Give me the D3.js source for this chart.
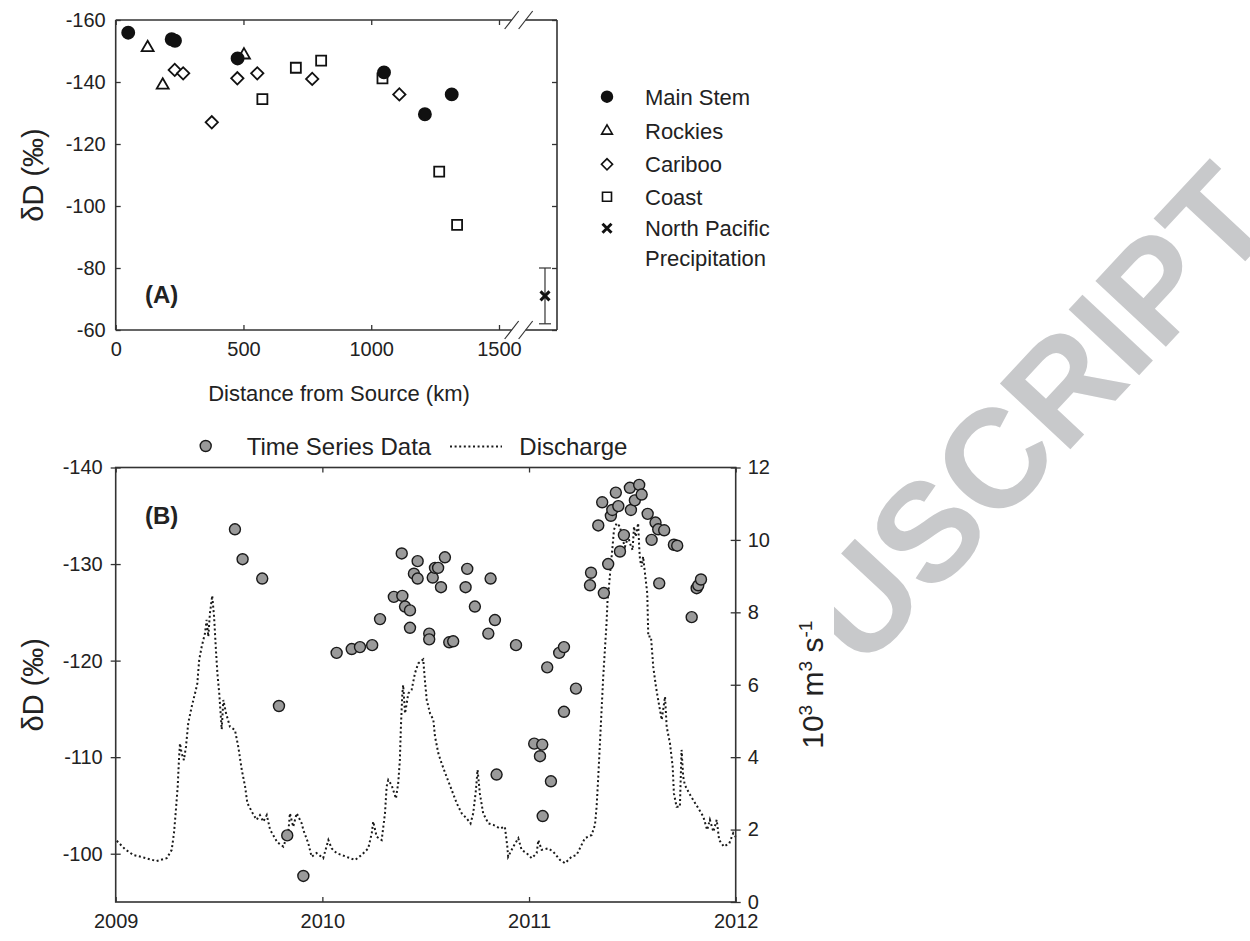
<!DOCTYPE html>
<html>
<head>
<meta charset="utf-8">
<script src="https://cdn.jsdelivr.net/npm/d3@7"></script>
<style>
  body { margin: 0; background: #fff; }
  text { font-family: "Liberation Sans", Arial, sans-serif; fill: #222; }
</style>
</head>
<body>
<svg id="chart" width="1250" height="941"></svg>
<script>
// ---- panel A: dD vs distance from source ----
const mainStemKm = [49, 219, 232, 477, 1050, 1210, 1315];
const mainStemDD = [-155.9, -153.8, -153.3, -147.6, -143.1, -129.6, -136.0];
const rockiesKm = [125, 184, 502];
const rockiesDD = [-151.1, -139.0, -148.7];
const caribooKm = [231, 264, 376, 476, 554, 769, 1110];
const caribooDD = [-143.9, -142.8, -127.0, -141.2, -142.8, -141.0, -136.0];
const coastKm = [574, 705, 804, 1044, 1266, 1336];
const coastDD = [-134.5, -144.6, -146.9, -141.2, -111.1, -93.9];
const pacificKm = [1680];
const pacificDD = [-71];
const pacificLow = [-80];
const pacificHigh = [-62];
const legendA = ['Main Stem', 'Rockies', 'Cariboo', 'Coast', 'North Pacific'];
const ticksAx = [0, 500, 1000, 1500];
const ticksAy = [-160, -140, -120, -100, -80, -60];

// ---- panel B: time series (decimal years) ----
const seriesT = [2009.577, 2009.614, 2009.709, 2009.790, 2009.830, 2009.908,
  2010.069, 2010.142, 2010.182, 2010.241, 2010.279, 2010.346, 2010.384, 2010.387,
  2010.400, 2010.424, 2010.424, 2010.443, 2010.461, 2010.461, 2010.517, 2010.517,
  2010.534, 2010.545, 2010.560, 2010.574, 2010.593, 2010.614, 2010.633, 2010.693,
  2010.701, 2010.738, 2010.803, 2010.814, 2010.835, 2010.843, 2010.937,
  2011.025, 2011.053, 2011.064, 2011.066, 2011.088, 2011.106, 2011.146, 2011.169,
  2011.169, 2011.227, 2011.295, 2011.300, 2011.335, 2011.354, 2011.362, 2011.383,
  2011.396, 2011.403, 2011.420, 2011.432, 2011.440, 2011.459, 2011.488, 2011.493,
  2011.512, 2011.533, 2011.545, 2011.574, 2011.593, 2011.612, 2011.625, 2011.630,
  2011.654, 2011.701, 2011.717, 2011.787, 2011.811, 2011.819, 2011.832];
const seriesDD = [-133.6, -130.5, -128.5, -115.3, -101.9, -97.7,
  -120.8, -121.2, -121.4, -121.6, -124.3, -126.6, -131.1, -126.7,
  -125.6, -125.2, -123.4, -129.0, -130.3, -128.5, -122.8, -122.2,
  -128.6, -129.6, -129.6, -127.6, -130.7, -121.9, -122.0, -127.6,
  -129.5, -125.6, -122.8, -128.5, -124.2, -108.2, -121.6,
  -111.4, -110.1, -111.3, -103.9, -119.3, -107.5, -120.8, -121.4,
  -114.7, -117.1, -127.8, -129.1, -134.0, -136.4, -127.0, -130.0,
  -135.0, -135.6, -137.4, -136.0, -131.3, -133.0, -137.9, -135.6,
  -136.6, -138.2, -137.2, -135.2, -132.5, -134.3, -133.6, -128.0,
  -133.5, -132.0, -131.9, -124.5, -127.5, -127.8, -128.4];

// discharge, 10^3 m3/s
const dischargeT = [2009.005, 2009.045, 2009.085, 2009.134, 2009.198, 2009.247, 2009.271,
  2009.282, 2009.290, 2009.300, 2009.306, 2009.311, 2009.319, 2009.330, 2009.340, 2009.351,
  2009.368, 2009.388, 2009.395, 2009.404, 2009.416, 2009.432, 2009.440, 2009.448, 2009.456,
  2009.467, 2009.476, 2009.485, 2009.492, 2009.501, 2009.513, 2009.521, 2009.534, 2009.553,
  2009.577, 2009.593, 2009.610, 2009.626, 2009.637, 2009.663, 2009.682, 2009.698, 2009.714,
  2009.731, 2009.747, 2009.782, 2009.811, 2009.835, 2009.843, 2009.859, 2009.876, 2009.900,
  2009.908, 2009.932, 2009.948, 2009.972, 2010.004, 2010.029, 2010.045, 2010.069, 2010.125,
  2010.158, 2010.190, 2010.222, 2010.239, 2010.246, 2010.263, 2010.287, 2010.303, 2010.311,
  2010.319, 2010.335, 2010.356, 2010.367, 2010.375, 2010.380, 2010.387, 2010.391, 2010.400,
  2010.416, 2010.432, 2010.448, 2010.464, 2010.488, 2010.496, 2010.505, 2010.521, 2010.537,
  2010.545, 2010.561, 2010.577, 2010.601, 2010.626, 2010.650, 2010.674, 2010.698, 2010.717,
  2010.730, 2010.743, 2010.751, 2010.762, 2010.778, 2010.803, 2010.827, 2010.859, 2010.883,
  2010.895, 2010.899, 2010.924, 2010.948, 2010.964, 2010.988, 2011.013, 2011.037, 2011.045,
  2011.061, 2011.093, 2011.117, 2011.150, 2011.174, 2011.206, 2011.230, 2011.246, 2011.270,
  2011.303, 2011.319, 2011.327, 2011.335, 2011.343, 2011.351, 2011.359, 2011.367, 2011.375,
  2011.380, 2011.388, 2011.395, 2011.404, 2011.411, 2011.424, 2011.440, 2011.453, 2011.464,
  2011.480, 2011.488, 2011.501, 2011.508, 2011.516, 2011.528, 2011.533, 2011.537, 2011.545,
  2011.552, 2011.561, 2011.572, 2011.577, 2011.590, 2011.601, 2011.614, 2011.625, 2011.642,
  2011.658, 2011.666, 2011.682, 2011.695, 2011.701, 2011.714, 2011.730, 2011.738, 2011.746,
  2011.754, 2011.775, 2011.794, 2011.819, 2011.843, 2011.862, 2011.875, 2011.892, 2011.908,
  2011.920, 2011.943, 2011.969, 2011.988, 2012.000];
const dischargeQ = [1.69, 1.46, 1.30, 1.23, 1.13, 1.21, 1.44,
  1.90, 2.45, 3.19, 3.92, 4.38, 4.11, 3.92, 4.29, 4.94,
  5.40, 5.86, 6.04, 6.69, 7.05, 7.42, 7.79, 7.33, 7.97,
  8.46, 7.88, 6.96, 6.32, 5.76, 4.77, 5.58, 5.21, 4.84,
  4.75, 4.29, 3.65, 3.19, 2.73, 2.45, 2.27, 2.40, 2.22,
  2.40, 2.00, 1.65, 1.53, 1.90, 2.45, 2.08, 2.45, 2.17,
  1.99, 1.62, 1.25, 1.35, 1.21, 1.71, 1.48, 1.35, 1.23,
  1.16, 1.30, 1.48, 1.90, 2.22, 1.80, 1.71, 2.45, 3.19,
  3.37, 3.23, 2.86, 3.28, 3.92, 4.84, 5.76, 5.99, 5.21,
  5.76, 5.86, 6.32, 6.59, 6.70, 6.13, 5.58, 5.21, 5.03,
  4.57, 4.11, 3.83, 3.46, 3.09, 2.73, 2.45, 2.31, 2.17,
  2.45, 3.09, 3.65, 3.00, 2.45, 2.17, 2.13, 2.03, 2.08,
  1.53, 1.25, 1.53, 1.76, 1.44, 1.35, 1.21, 1.35, 1.71,
  1.44, 1.48, 1.39, 1.16, 1.07, 1.25, 1.30, 1.48, 1.76,
  1.85, 2.13, 2.63, 3.46, 4.38, 5.30, 6.22, 6.96, 7.70,
  8.34, 8.80, 9.26, 9.81, 10.28, 10.46, 10.37, 10.00, 9.81,
  10.09, 9.91, 9.72, 10.37, 10.09, 10.46, 9.81, 9.45, 9.26,
  9.54, 9.08, 8.53, 7.33, 7.33, 6.50, 5.95, 5.58, 5.03,
  5.67, 4.84, 4.38, 3.74, 3.00, 2.63, 2.63, 4.20, 3.46,
  3.23, 3.00, 2.82, 2.59, 2.36, 1.99, 2.27, 1.94, 2.27,
  1.71, 1.53, 1.62, 1.90, 1.80];
const ticksBx = [2009, 2010, 2011, 2012];
const ticksBy = [-140, -130, -120, -110, -100];
const ticksBq = [0, 2, 4, 6, 8, 10, 12];

const svg = d3.select('#chart');
const axisColor = '#333';
const dots = '2 2.6';

// watermark, hidden where the figure covers it
const wm = svg.append('defs').append('clipPath').attr('id', 'wmclip');
wm.append('rect').attr('x', 834).attr('y', 0).attr('width', 416).attr('height', 941);
svg.append('g').attr('clip-path', 'url(#wmclip)')
  .append('text')
  .attr('transform', 'translate(1035,413) rotate(-47)')
  .attr('text-anchor', 'middle')
  .attr('dy', '0.36em')
  .style('font-size', '140px')
  .style('font-weight', 'bold')
  .style('fill', '#c8c9cb')
  .text('USCRIPT');

// ================= panel A =================
const xA = d3.scaleLinear().domain([0, 1727]).range([115.7, 557]);
const yA = d3.scaleLinear().domain([-160, -60]).range([20, 330]);
const gA = svg.append('g');

const plainAxis = g => g.select('.domain').remove();

gA.append('g').attr('transform', `translate(${xA(0)},0)`)
  .call(d3.axisLeft(yA).tickValues(ticksAy).tickSize(-5).tickPadding(10).tickFormat(d => String(d)))
  .call(plainAxis)
  .call(g => g.selectAll('text').style('font-size', '20px'));
gA.append('g').attr('transform', `translate(${xA(1727)},0)`)
  .call(d3.axisRight(yA).tickValues(ticksAy).tickSize(-5).tickFormat(''))
  .call(plainAxis);
gA.append('g').attr('transform', `translate(0,${yA(-60)})`)
  .call(d3.axisBottom(xA).tickValues(ticksAx).tickSize(-5).tickPadding(12).tickFormat(d => String(d)))
  .call(plainAxis)
  .call(g => g.selectAll('text').style('font-size', '20px'));
gA.append('g').attr('transform', `translate(0,${yA(-160)})`)
  .call(d3.axisTop(xA).tickValues(ticksAx).tickSize(-5).tickFormat(''))
  .call(plainAxis);
gA.selectAll('.tick line').attr('stroke', axisColor).attr('stroke-width', 1.3);
gA.selectAll('.tick text').style('fill', '#222');

// frame with the axis break
const bx = xA(1577);
const frameA = gA.append('g').attr('stroke', axisColor).attr('stroke-width', 1.6).attr('fill', 'none');
frameA.append('line').attr('x1', xA(0)).attr('x2', xA(0)).attr('y1', yA(-160)).attr('y2', yA(-60));
frameA.append('line').attr('x1', xA(1727)).attr('x2', xA(1727)).attr('y1', yA(-160)).attr('y2', yA(-60));
[yA(-160), yA(-60)].forEach(y => {
  frameA.append('line').attr('x1', xA(0)).attr('x2', bx - 7).attr('y1', y).attr('y2', y);
  frameA.append('line').attr('x1', bx + 7).attr('x2', xA(1727)).attr('y1', y).attr('y2', y);
  [bx - 7, bx + 7].forEach(x => {
    frameA.append('line').attr('x1', x - 7).attr('x2', x + 7).attr('y1', y + 9).attr('y2', y - 9)
      .attr('stroke-width', 1.2);
  });
});

const symPath = (type, size) => d3.symbol().type(type).size(size)();
const markA = {
  circle: { d: symPath(d3.symbolCircle, 115), fill: '#111', rot: 0 },
  triangle: { d: symPath(d3.symbolTriangle, 62), fill: '#fff', rot: 0 },
  diamond: { d: symPath(d3.symbolSquare, 76), fill: '#fff', rot: 45 },
  square: { d: symPath(d3.symbolSquare, 100), fill: '#fff', rot: 0 }
};

function drawGroup(kms, dds, mk) {
  gA.append('g').selectAll('path')
    .data(kms.map((k, i) => [k, dds[i]]))
    .join('path')
    .attr('d', mk.d)
    .attr('transform', d => `translate(${xA(d[0])},${yA(d[1])}) rotate(${mk.rot})`)
    .attr('fill', mk.fill)
    .attr('stroke', '#111')
    .attr('stroke-width', 1.8);
}
drawGroup(coastKm, coastDD, markA.square);
drawGroup(caribooKm, caribooDD, markA.diamond);
drawGroup(rockiesKm, rockiesDD, markA.triangle);
drawGroup(mainStemKm, mainStemDD, markA.circle);

// north pacific precipitation with range
pacificKm.forEach((k, i) => {
  const x = xA(k);
  const g = gA.append('g').attr('stroke', '#333').attr('fill', 'none');
  g.append('line').attr('x1', x).attr('x2', x).attr('y1', yA(pacificLow[i])).attr('y2', yA(pacificHigh[i])).attr('stroke-width', 1.2);
  g.append('line').attr('x1', x - 6).attr('x2', x + 6).attr('y1', yA(pacificLow[i])).attr('y2', yA(pacificLow[i])).attr('stroke-width', 1.2);
  g.append('line').attr('x1', x - 6).attr('x2', x + 6).attr('y1', yA(pacificHigh[i])).attr('y2', yA(pacificHigh[i])).attr('stroke-width', 1.2);
  const y = yA(pacificDD[i]);
  g.append('path').attr('d', `M${x - 4.5},${y - 4.5}L${x + 4.5},${y + 4.5}M${x - 4.5},${y + 4.5}L${x + 4.5},${y - 4.5}`)
    .attr('stroke', '#111').attr('stroke-width', 3);
});

gA.append('text').attr('x', 145).attr('y', 303)
  .style('font-size', '24px').style('font-weight', 'bold').text('(A)');

gA.append('text').attr('x', 339).attr('y', 401).attr('text-anchor', 'middle')
  .style('font-size', '22px').text('Distance from Source (km)');
gA.append('text').attr('transform', `translate(43,${(yA(-160) + yA(-60)) / 2}) rotate(-90)`)
  .attr('text-anchor', 'middle').style('font-size', '29px').text('δD (‰)');

// legend A
const legA = svg.append('g').attr('transform', 'translate(607,0)');
const legRows = [96.7, 131, 164.3, 196.7, 228.3];
const legMarks = [markA.circle, markA.triangle, markA.diamond, markA.square, null];
legendA.forEach((name, i) => {
  const y = legRows[i];
  const mk = legMarks[i];
  if (mk) {
    legA.append('path').attr('d', mk.d)
      .attr('transform', `translate(0,${y}) rotate(${mk.rot}) scale(0.9)`)
      .attr('fill', mk.fill).attr('stroke', '#111').attr('stroke-width', 1.8);
  } else {
    legA.append('path').attr('d', `M-4.5,${y - 4.5}L4.5,${y + 4.5}M-4.5,${y + 4.5}L4.5,${y - 4.5}`)
      .attr('stroke', '#111').attr('stroke-width', 3);
  }
  legA.append('text').attr('x', 38).attr('y', y + 8).style('font-size', '22px').text(name);
});
legA.append('text').attr('x', 38).attr('y', 258.3 + 8).style('font-size', '22px').text('Precipitation');

// ================= panel B =================
const xB = d3.scaleLinear().domain([2009, 2012]).range([115.7, 735.7]);
const yB = d3.scaleLinear().domain([-140, -95]).range([467.5, 902]);
const qB = d3.scaleLinear().domain([0, 12]).range([902, 467.5]);
const gB = svg.append('g');

// discharge, dotted
gB.append('path')
  .datum(dischargeT.map((t, i) => [t, dischargeQ[i]]))
  .attr('d', d3.line().x(d => xB(d[0])).y(d => qB(d[1])))
  .attr('fill', 'none')
  .attr('stroke', '#1a1a1a')
  .attr('stroke-width', 2)
  .attr('stroke-dasharray', dots);

gB.append('g').attr('transform', `translate(${xB(2009)},0)`)
  .call(d3.axisLeft(yB).tickValues(ticksBy).tickSize(5).tickPadding(8).tickFormat(d => String(d)))
  .call(plainAxis)
  .call(g => g.selectAll('.tick line').attr('x1', 5))
  .call(g => g.selectAll('text').style('font-size', '20px'));
gB.append('g').attr('transform', `translate(${xB(2012)},0)`)
  .call(d3.axisRight(qB).tickValues(ticksBq).tickSize(5).tickPadding(7).tickFormat(d => String(d)))
  .call(plainAxis)
  .call(g => g.selectAll('.tick line').attr('x1', -5))
  .call(g => g.selectAll('text').style('font-size', '20px'));
gB.append('g').attr('transform', `translate(0,${yB(-95)})`)
  .call(d3.axisBottom(xB).tickValues(ticksBx).tickSize(-5).tickPadding(12).tickFormat(d3.format('d')))
  .call(plainAxis)
  .call(g => g.selectAll('text').style('font-size', '20px'));
gB.append('g').attr('transform', `translate(0,${yB(-140)})`)
  .call(d3.axisTop(xB).tickValues(ticksBx).tickSize(-5).tickFormat(''))
  .call(plainAxis);
gB.selectAll('.tick line').attr('stroke', axisColor).attr('stroke-width', 1.3);
gB.selectAll('.tick text').style('fill', '#222');

gB.append('rect')
  .attr('x', xB(2009)).attr('y', yB(-140))
  .attr('width', xB(2012) - xB(2009)).attr('height', yB(-95) - yB(-140))
  .attr('fill', 'none').attr('stroke', axisColor).attr('stroke-width', 1.6);

gB.append('g').selectAll('circle')
  .data(seriesT.map((t, i) => [t, seriesDD[i]]))
  .join('circle')
  .attr('cx', d => xB(d[0]))
  .attr('cy', d => yB(d[1]))
  .attr('r', 5.5)
  .attr('fill', '#9a9a9a')
  .attr('stroke', '#1a1a1a')
  .attr('stroke-width', 1.4);

gB.append('text').attr('x', 145).attr('y', 524)
  .style('font-size', '24px').style('font-weight', 'bold').text('(B)');

gB.append('text').attr('transform', `translate(42.5,${(yB(-140) + yB(-95)) / 2}) rotate(-90)`)
  .attr('text-anchor', 'middle').style('font-size', '29px').text('δD (‰)');

const qLab = gB.append('text')
  .attr('transform', `translate(823,${(yB(-140) + yB(-95)) / 2}) rotate(-90)`)
  .attr('text-anchor', 'middle').style('font-size', '30px');
qLab.append('tspan').text('10');
qLab.append('tspan').attr('dy', -11).style('font-size', '19px').text('3');
qLab.append('tspan').attr('dy', 11).text(' m');
qLab.append('tspan').attr('dy', -11).style('font-size', '19px').text('3');
qLab.append('tspan').attr('dy', 11).text(' s');
qLab.append('tspan').attr('dy', -11).style('font-size', '19px').text('-1');

// legend B
const legB = svg.append('g');
legB.append('circle').attr('cx', 205.7).attr('cy', 446).attr('r', 5.5)
  .attr('fill', '#9a9a9a').attr('stroke', '#1a1a1a').attr('stroke-width', 1.4);
legB.append('text').attr('x', 246.7).attr('y', 455).style('font-size', '24px').text('Time Series Data');
legB.append('line').attr('x1', 450).attr('x2', 502).attr('y1', 446.5).attr('y2', 446.5)
  .attr('stroke', '#1a1a1a').attr('stroke-width', 2).attr('stroke-dasharray', dots);
legB.append('text').attr('x', 519.3).attr('y', 455).style('font-size', '24px').text('Discharge');
</script>
</body>
</html>
